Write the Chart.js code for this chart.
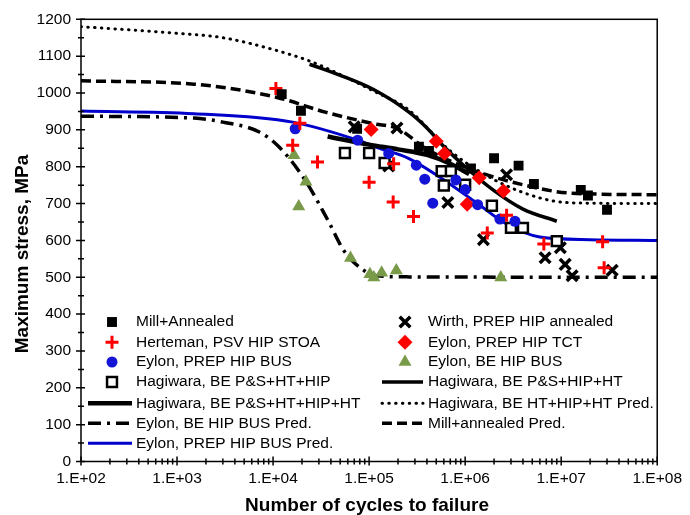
<!DOCTYPE html>
<html>
<head>
<meta charset="utf-8">
<script src="https://cdn.jsdelivr.net/npm/chart.js"></script>
<style>
body { margin: 0; background: #fff; }
</style>
</head>
<body>
<canvas id="fatigue" width="690" height="515"></canvas>
<script>
// [cycles to failure, max stress MPa]
var millAnnealed = [[1.23e4, 997], [1.95e4, 952], [7.5e4, 903], [3.3e5, 854], [4.2e5, 843], [1.15e6, 795], [2e6, 823], [3.6e6, 803], [5.2e6, 753], [1.6e7, 737], [1.9e7, 722], [3e7, 683]];
var herteman = [[1.07e4, 1012], [1.9e4, 918], [1.6e4, 858], [2.9e4, 813], [1e5, 758], [1.8e5, 808], [1.78e5, 704], [2.9e5, 665], [1.7e6, 620], [2.7e6, 668], [6.6e6, 590], [2.7e7, 596], [2.8e7, 526]];
var eylonPrepBus = [[1.7e4, 903], [7.6e4, 872], [1.6e5, 836], [3.1e5, 804], [3.8e5, 766], [4.6e5, 701], [8e5, 764], [1e6, 738], [1.35e6, 697], [2.3e6, 658], [3.3e6, 652]];
var hagiwaraPsHtHip = [[5.6e4, 837], [1e5, 837], [1.45e5, 810], [5.7e5, 788], [7.1e5, 788], [6e5, 749], [1e6, 751], [1.9e6, 694], [3e6, 634], [4e6, 634], [9e6, 598]];
var wirth = [[7e4, 908], [1.95e5, 905], [1.6e5, 802], [6.6e5, 703], [2.7e6, 778], [1.55e6, 602], [6.8e6, 553], [9.8e6, 580], [1.1e7, 535], [1.3e7, 504], [3.4e7, 519]];
var eylonPrepTct = [[1.05e5, 901], [5e5, 869], [6.1e5, 836], [1.05e6, 698], [1.4e6, 770], [2.5e6, 734]];
var eylonBeBus = [[1.65e4, 831], [2.2e4, 759], [1.85e4, 692], [6.4e4, 552], [1.02e5, 508], [1.12e5, 499], [1.35e5, 512], [1.92e5, 518], [2.35e6, 499]];

// fitted and predicted curves
var hagiwaraPsHipHt = [[2.4e4, 1078], [5e4, 1048], [1.1e5, 1010], [2.6e5, 948], [4e5, 905], [6e5, 855], [1e6, 800], [2e6, 735], [4e6, 685], [9e6, 652]];
var hagiwaraPsHtHipHt = [[3.7e4, 882], [1e5, 860], [2e5, 847], [4e5, 832], [7e5, 808], [1.1e6, 780]];
var hagiwaraPred = [[1e2, 1180], [1e3, 1162], [3e3, 1150], [1e4, 1118], [2.5e4, 1085], [5e4, 1050], [1.1e5, 1006], [2.5e5, 957], [7.2e5, 840], [1.9e6, 768], [4e6, 730], [8.7e6, 706], [2e7, 701], [1e8, 700]];
var eylonBePred = [[1e2, 937], [1.5e3, 932], [3e3, 921], [7.2e3, 894], [1.15e4, 854], [2.1e4, 768], [3.7e4, 656], [5.5e4, 571], [9e4, 517], [1.2e5, 504], [2.6e5, 501], [1e8, 500]];
var millPred = [[1e2, 1033], [1.5e3, 1024], [1.1e4, 988], [3.5e4, 948], [1.1e5, 917], [2e5, 903], [3.9e5, 849], [1.2e6, 791], [4e6, 751], [1.3e7, 728], [1e8, 724]];
var eylonPrepPred = [[1e2, 951], [1.5e3, 944], [1.6e4, 921], [7.6e4, 872], [1.15e5, 854], [2.6e5, 822], [5.7e5, 768], [1.25e6, 706], [2.75e6, 643], [6e6, 609], [2e7, 602], [1e8, 600]];

var xTickLabels = ["1.E+02", "1.E+03", "1.E+04", "1.E+05", "1.E+06", "1.E+07", "1.E+08"];

var FONT = '"Liberation Sans", Arial, sans-serif';
Chart.defaults.font.family = FONT;
Chart.defaults.color = "#000";

function pts(arr) {
    return arr.map(function (p) { return { x: p[0], y: p[1] }; });
}

function markers(label, arr, style, radius, fill, border, bw, col, row) {
    return {
        label: label, data: pts(arr), showLine: false,
        pointStyle: style, pointRadius: radius,
        pointBackgroundColor: fill, pointBorderColor: border, pointBorderWidth: bw,
        legendCol: col, legendRow: row
    };
}

function curve(label, arr, color, width, dash, cap, col, row) {
    return {
        label: label, data: pts(arr), showLine: true, pointRadius: 0,
        borderColor: color, borderWidth: width, borderDash: dash, borderCapStyle: cap,
        cubicInterpolationMode: "monotone", legendCol: col, legendRow: row
    };
}

var datasets = [
    markers("Mill+Annealed", millAnnealed, "rect", 7, "#000", "#000", 0, 0, 0),
    markers("Herteman, PSV HIP STOA", herteman, "cross", 6.5, "#ff0000", "#ff0000", 3, 0, 1),
    markers("Eylon, PREP HIP BUS", eylonPrepBus, "circle", 5.5, "#1414d8", "#1414d8", 0, 0, 2),
    markers("Hagiwara, BE P&S+HT+HIP", hagiwaraPsHtHip, "rect", 7, "#fff", "#000", 2.5, 0, 3),
    markers("Wirth, PREP HIP annealed", wirth, "crossRot", 7.5, "#000", "#000", 3.5, 1, 0),
    markers("Eylon, PREP HIP TCT", eylonPrepTct, "rectRot", 7.5, "#ff0000", "#ff0000", 0, 1, 1),
    markers("Eylon, BE HIP BUS", eylonBeBus, "triangle", 7.5, "#789a49", "#789a49", 0, 1, 2),
    curve("Hagiwara, BE P&S+HIP+HT", hagiwaraPsHipHt, "#000", 3.5, [], "butt", 1, 3),
    curve("Hagiwara, BE P&S+HT+HIP+HT", hagiwaraPsHtHipHt, "#000", 4.5, [], "butt", 0, 4),
    curve("Hagiwara, BE HT+HIP+HT Pred.", hagiwaraPred, "#000", 3, [0.5, 6.3], "round", 1, 4),
    curve("Eylon, BE HIP BUS Pred.", eylonBePred, "#000", 3.5, [13, 6, 3, 6], "butt", 0, 5),
    curve("Mill+annealed Pred.", millPred, "#000", 3.5, [10, 5], "butt", 1, 5),
    curve("Eylon, PREP HIP BUS Pred.", eylonPrepPred, "#0000cc", 3, [], "butt", 0, 6)
];

// ticks crossing the axes, frame, axis titles and the in-plot legend
var decorations = {
    id: "decorations",
    afterDraw: function (chart) {
        var ctx = chart.ctx, a = chart.chartArea;
        var xs = chart.scales.x, ys = chart.scales.y;
        ctx.save();
        ctx.strokeStyle = "#000";
        ctx.lineWidth = 1.5;
        ctx.setLineDash([]);
        ctx.strokeRect(a.left, a.top, a.right - a.left, a.bottom - a.top);

        ctx.beginPath();
        for (var e = 2; e <= 8; e++) {
            for (var k = 1; k <= 9; k++) {
                if (e === 8 && k > 1) break;
                var px = xs.getPixelForValue(k * Math.pow(10, e));
                var inner = k === 1 ? 5 : 3, outer = k === 1 ? 4 : 3;
                ctx.moveTo(px, a.bottom - inner);
                ctx.lineTo(px, a.bottom + outer);
            }
        }
        for (var s = 0; s <= 1200; s += 50) {
            var py = ys.getPixelForValue(s);
            var major = s % 100 === 0;
            ctx.moveTo(a.left - (major ? 5 : 3), py);
            ctx.lineTo(a.left + (major ? 4 : 3), py);
        }
        ctx.stroke();

        ctx.fillStyle = "#000";
        ctx.font = "bold 19px " + FONT;
        ctx.textAlign = "center";
        ctx.textBaseline = "alphabetic";
        ctx.fillText("Number of cycles to failure", 367, 511);
        ctx.save();
        ctx.translate(28, 254);
        ctx.rotate(-Math.PI / 2);
        ctx.fillText("Maximum stress, MPa", 0, 0);
        ctx.restore();

        // legend
        var rowY = [322, 342.3, 362, 382, 403.3, 423.3, 443.3];
        var cols = [
            { mark: 112, lineFrom: 88, lineTo: 132, text: 136 },
            { mark: 405, lineFrom: 382, lineTo: 423, text: 428 }
        ];
        ctx.font = "15.5px " + FONT;
        ctx.textAlign = "left";
        ctx.textBaseline = "middle";
        chart.data.datasets.forEach(function (ds) {
            var c = cols[ds.legendCol], y = rowY[ds.legendRow];
            if (ds.showLine) {
                ctx.strokeStyle = ds.borderColor;
                ctx.lineWidth = ds.borderWidth;
                ctx.lineCap = ds.borderCapStyle;
                ctx.setLineDash(ds.borderDash);
                ctx.beginPath();
                ctx.moveTo(c.lineFrom, y);
                ctx.lineTo(c.lineTo, y);
                ctx.stroke();
                ctx.setLineDash([]);
                ctx.lineCap = "butt";
            } else {
                ctx.fillStyle = ds.pointBackgroundColor;
                ctx.strokeStyle = ds.pointBorderColor;
                ctx.lineWidth = ds.pointBorderWidth;
                Chart.helpers.drawPoint(ctx, {
                    pointStyle: ds.pointStyle, rotation: 0,
                    radius: ds.pointRadius,
                    borderWidth: ds.pointBorderWidth
                }, c.mark, y);
            }
            ctx.fillStyle = "#000";
            ctx.fillText(ds.label, c.text, y);
        });
        ctx.restore();
    }
};

new Chart(document.getElementById("fatigue"), {
    type: "scatter",
    data: { datasets: datasets },
    options: {
        responsive: false,
        animation: false,
        events: [],
        layout: { padding: { left: 0, right: 25, top: 16, bottom: 0 } },
        plugins: { legend: { display: false }, tooltip: { enabled: false } },
        scales: {
            x: {
                type: "logarithmic",
                min: 100,
                max: 1e8,
                grid: { display: false, drawTicks: false },
                border: { display: false },
                ticks: {
                    padding: 8,
                    autoSkip: false,
                    maxRotation: 0,
                    font: { size: 15.5 },
                    callback: function (v) {
                        var e = Math.log10(v);
                        return Math.abs(e - Math.round(e)) < 1e-9 ? xTickLabels[Math.round(e) - 2] : "";
                    }
                },
                afterFit: function (scale) { scale.height = 53.5; }
            },
            y: {
                min: 0,
                max: 1200,
                grid: { display: false, drawTicks: false },
                border: { display: false },
                ticks: {
                    stepSize: 100,
                    padding: 10,
                    font: { size: 15.5 },
                    callback: function (v) { return String(v); }
                },
                afterFit: function (scale) { scale.width = 81; }
            }
        }
    },
    plugins: [decorations]
});
</script>
</body>
</html>
